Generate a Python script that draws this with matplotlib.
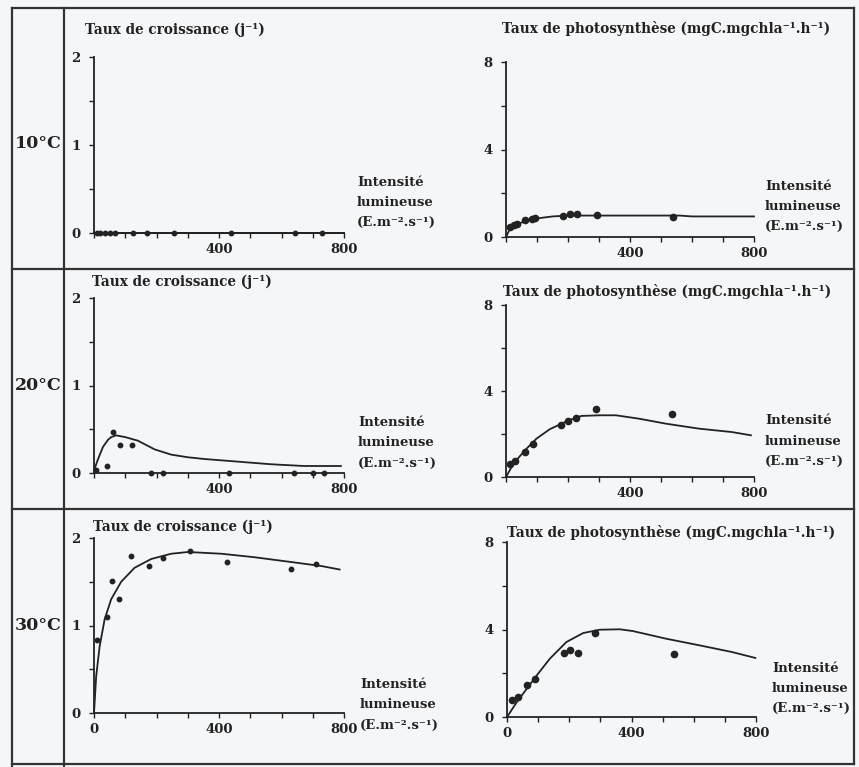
import numpy as np
import matplotlib
matplotlib.use('Agg')
import matplotlib.pyplot as plt
from matplotlib.lines import Line2D
from matplotlib.ticker import FixedLocator, FixedFormatter

W, H = 859, 767

########## data
temps = ['10°C', '20°C', '30°C']

# growth rate, 10 C
g10_x = [8, 18, 34, 50, 67, 126, 169, 255, 438, 642, 728]
g10_y = [0, 0, 0, 0, 0, 0, 0, 0, 0, 0, 0]
g10_fit_x = [0, 800]
g10_fit_y = [0, 0]

# photosynthesis, 10 C
p10_x = [13, 26, 34, 61, 83, 94, 185, 206, 228, 292, 540]
p10_y = [0.45, 0.53, 0.61, 0.76, 0.83, 0.86, 0.95, 1.03, 1.03, 1.02, 0.91]
p10_fit_x = [0, 10, 20, 35, 50, 75, 100, 150, 200, 300, 400, 560, 600, 800]
p10_fit_y = [0, 0.3, 0.45, 0.57, 0.66, 0.77, 0.85, 0.94, 0.98, 0.98, 0.98, 0.98, 0.94, 0.94]

# growth rate, 20 C
g20_x = [7, 43, 61, 82, 121, 183, 220, 433, 640, 700, 735]
g20_y = [0.04, 0.08, 0.47, 0.32, 0.32, 0, 0, 0, 0, 0, 0]
g20_fit_x = [0, 13, 29, 45, 55, 71, 100, 140, 194, 247, 300, 353, 460, 566, 672, 790]
g20_fit_y = [0.03, 0.16, 0.30, 0.38, 0.41, 0.43, 0.41, 0.37, 0.27, 0.21, 0.18, 0.16, 0.13, 0.10, 0.08, 0.08]

# photosynthesis, 20 C
p20_x = [13, 29, 61, 88, 179, 200, 227, 291, 535]
p20_y = [0.59, 0.74, 1.16, 1.52, 2.40, 2.59, 2.76, 3.15, 2.91]
p20_fit_x = [0, 24, 61, 98, 141, 195, 243, 302, 355, 430, 516, 622, 729, 790]
p20_fit_y = [0, 0.62, 1.24, 1.78, 2.22, 2.59, 2.84, 2.87, 2.87, 2.71, 2.48, 2.25, 2.09, 1.94]

# growth rate, 30 C
g30_x = [11, 42, 58, 79, 119, 176, 221, 306, 426, 631, 709]
g30_y = [0.83, 1.10, 1.51, 1.30, 1.80, 1.68, 1.77, 1.85, 1.73, 1.65, 1.70]
g30_fit_x = [0, 7, 18, 34, 55, 87, 130, 183, 247, 301, 408, 514, 621, 727, 786]
g30_fit_y = [0, 0.42, 0.76, 1.07, 1.30, 1.50, 1.66, 1.76, 1.82, 1.84, 1.82, 1.78, 1.73, 1.68, 1.64]

# photosynthesis, 30 C
p30_x = [16, 34, 64, 90, 183, 202, 229, 284, 535]
p30_y = [0.76, 0.91, 1.45, 1.75, 2.94, 3.08, 2.93, 3.84, 2.90]
p30_fit_x = [0, 32, 64, 96, 138, 191, 245, 298, 362, 404, 511, 617, 723, 798]
p30_fit_y = [0, 0.69, 1.30, 1.91, 2.67, 3.43, 3.84, 3.99, 4.01, 3.93, 3.58, 3.28, 2.97, 2.70]

growth_title = 'Taux de croissance (j⁻¹)'
photo_title = 'Taux de photosynthèse (mgC.mgchla⁻¹.h⁻¹)'
xlabel_lines = ['Intensité', 'lumineuse', '(E.m⁻².s⁻¹)']

##########
plt.rcParams['font.family'] = ['DejaVu Serif']
plt.rcParams['font.weight'] = 'bold'
ink = '#222222'
bg = '#f5f6f8'

fig = plt.figure(figsize=(W / 100, H / 100), dpi=100, facecolor=bg)


def fx(x):
    return x / W


def fy(y):
    return 1 - y / H


def make_axes(x0, x1, ytop, ybot):
    return fig.add_axes([fx(x0), fy(ybot), (x1 - x0) / W, (ybot - ytop) / H])


def style(ax, ymax, ylabels, xzero):
    ax.set_facecolor('none')
    ax.set_xlim(0, 800)
    ax.set_ylim(0, ymax)
    for s in ['top', 'right']:
        ax.spines[s].set_visible(False)
    for s in ['left', 'bottom']:
        ax.spines[s].set_linewidth(1.3)
        ax.spines[s].set_color(ink)
    ax.xaxis.set_major_locator(FixedLocator(range(0, 801, 100)))
    xl = ['' for _ in range(9)]
    xl[4] = '400'
    xl[8] = '800'
    if xzero:
        xl[0] = '0'
    ax.xaxis.set_major_formatter(FixedFormatter(xl))
    yt = np.linspace(0, ymax, 5)
    ax.yaxis.set_major_locator(FixedLocator(yt))
    ax.yaxis.set_major_formatter(FixedFormatter(ylabels))
    ax.tick_params(length=3.5, width=1, color=ink, labelcolor=ink,
                   labelsize=9.5, pad=4)
    ax.tick_params(axis='y', pad=6)


panels = [
    # (x0, x1, ytop, ybot, pts, fit, ymax, title, title pos, label pos)
    (94, 344, 57, 233, (g10_x, g10_y), (g10_fit_x, g10_fit_y), 2, growth_title, (85, 30), (357, 182)),
    (506, 754, 62, 237, (p10_x, p10_y), (p10_fit_x, p10_fit_y), 8, photo_title, (502, 28), (765, 186)),
    (94, 344, 298, 473, (g20_x, g20_y), (g20_fit_x, g20_fit_y), 2, growth_title, (92, 282), (358, 423)),
    (506, 754, 305, 477, (p20_x, p20_y), (p20_fit_x, p20_fit_y), 8, photo_title, (503, 292), (765, 421)),
    (94, 344, 538, 713, (g30_x, g30_y), (g30_fit_x, g30_fit_y), 2, growth_title, (93, 527), (360, 685)),
    (507, 756, 542, 717, (p30_x, p30_y), (p30_fit_x, p30_fit_y), 8, photo_title, (507, 532), (772, 668)),
]

for i, (x0, x1, yt, yb, pts, fit, ymax, title, tpos, lpos) in enumerate(panels):
    ax = make_axes(x0, x1, yt, yb)
    if ymax == 2:
        style(ax, 2, ['0', '', '1', '', '2'], i >= 4)
        ms = 3.2
    else:
        style(ax, 8, ['0', '', '4', '', '8'], i >= 4)
        ms = 4.5
    ax.plot(fit[0], fit[1], color=ink, lw=1.3, clip_on=False)
    ax.plot(pts[0], pts[1], 'o', color=ink, ms=ms, clip_on=False)
    fig.text(fx(tpos[0]), fy(tpos[1]), title, fontsize=9.8, color=ink,
             ha='left', va='center')
    for k, line in enumerate(xlabel_lines):
        fig.text(fx(lpos[0]), fy(lpos[1] + 20 * k), line, fontsize=9.5,
                 color=ink, ha='left', va='center')

# temperature labels
for t, y in zip(temps, [143, 385, 625]):
    fig.text(fx(15), fy(y), t, fontsize=12.5, color=ink, ha='left', va='center')

# table frame
frame = [
    ([12, 12], [8, 767]),
    ([64, 64], [8, 767]),
    ([854, 854], [8, 764]),
    ([12, 854], [8, 8]),
    ([12, 854], [269, 269]),
    ([12, 854], [509, 509]),
    ([12, 854], [764, 764]),
]
for xs, ys in frame:
    fig.add_artist(Line2D([fx(v) for v in xs], [fy(v) for v in ys],
                          color='#333333', lw=1.6))

fig.savefig('out.png', dpi=100, facecolor=bg)
